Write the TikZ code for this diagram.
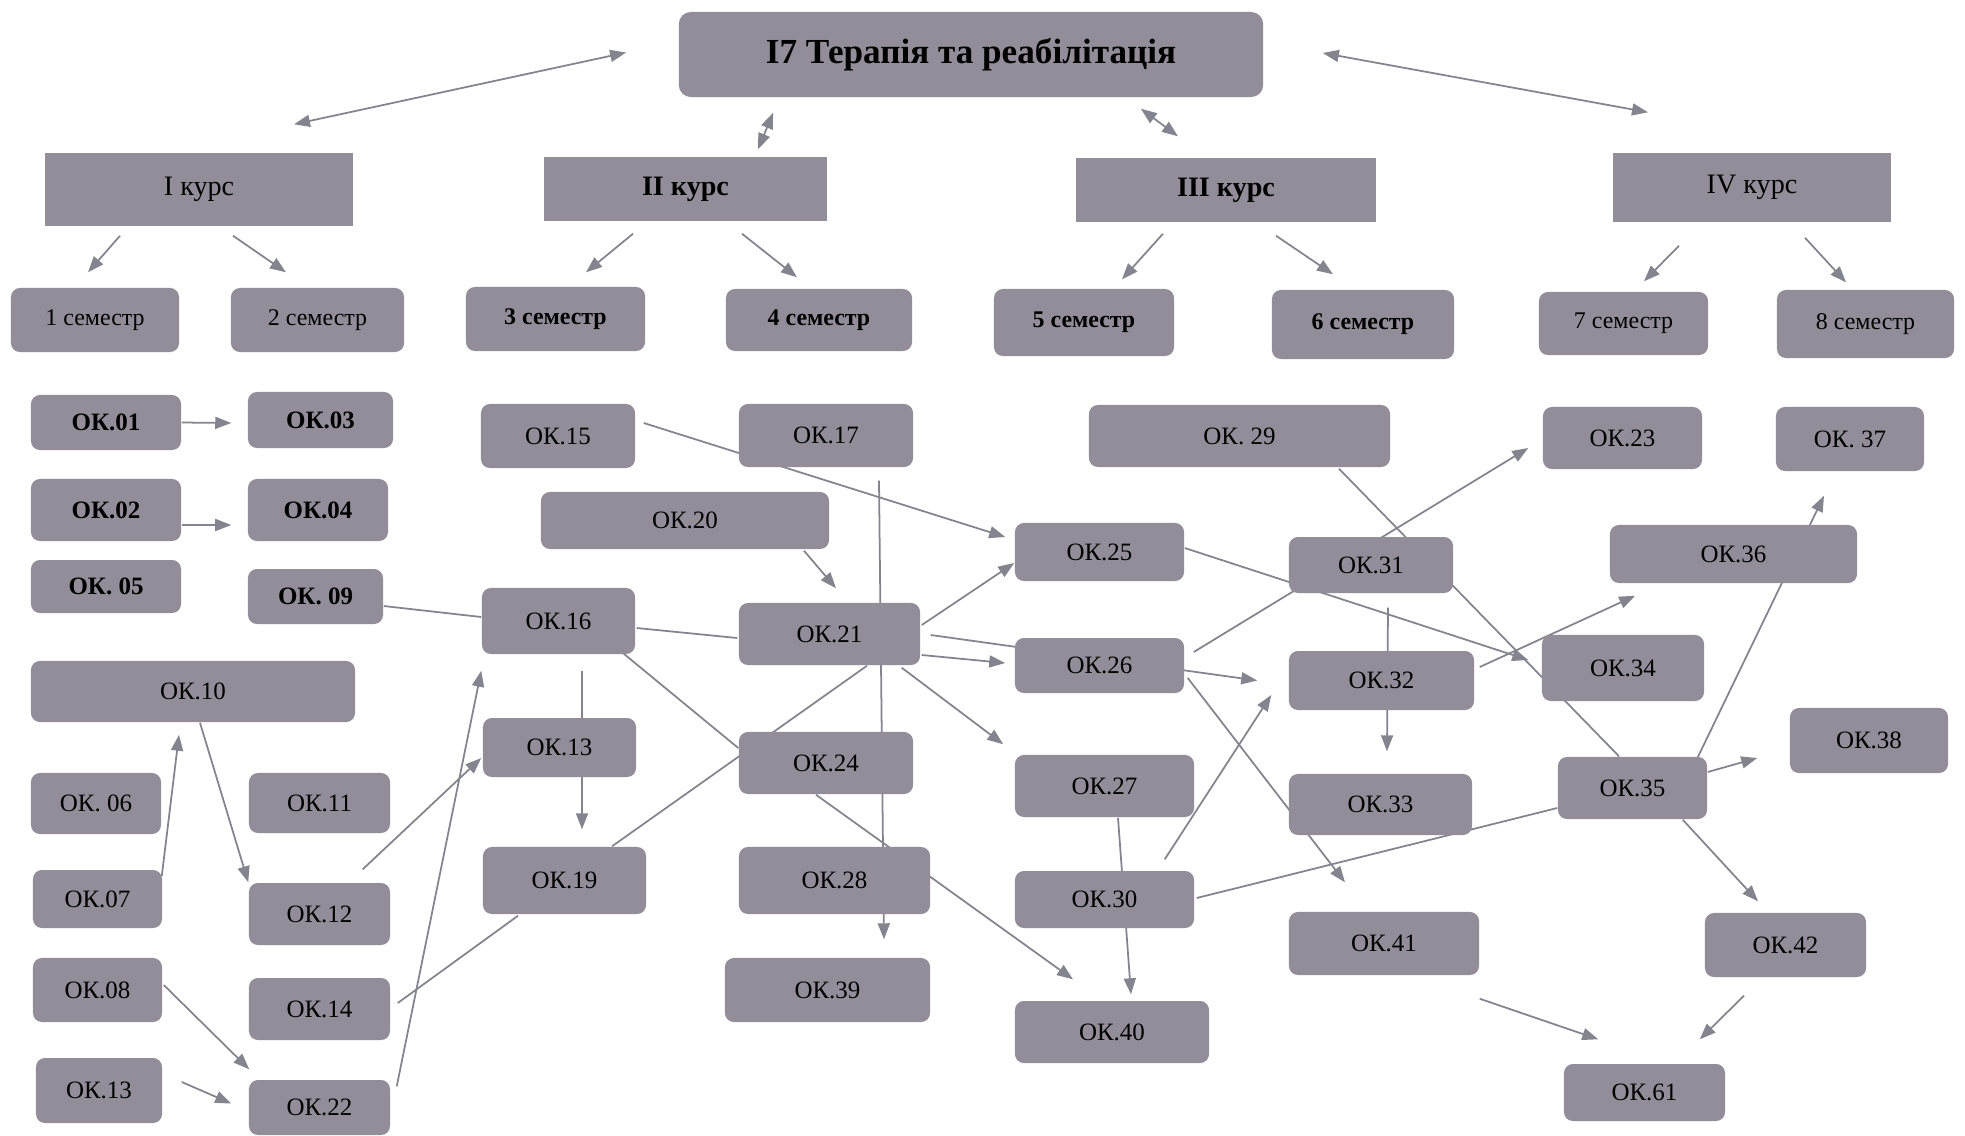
\documentclass[tikz,border=0pt]{standalone}
\usepackage{fontspec}
\setmainfont{Liberation Serif}
\usetikzlibrary{arrows.meta, backgrounds}

\definecolor{boxgrey}{RGB}{146,141,153}
\definecolor{linegrey}{RGB}{132,132,142}

\tikzset{
    box/.style = {shape = rectangle, fill = boxgrey, inner sep = 0pt, text = black},
    dims/.style 2 args = {minimum width = #1cm, minimum height = #2cm},
    ok/.style = {box, rounded corners = 0.09cm, font = \fontsize{7.1}{8}\selectfont},
    okbold/.style = {ok, font = \fontsize{7.1}{8}\selectfont\bfseries},
    sem/.style = {box, rounded corners = 0.09cm, font = \fontsize{6.8}{8}\selectfont},
    sembold/.style = {sem, font = \fontsize{6.8}{8}\selectfont\bfseries},
    kurs/.style = {box, font = \fontsize{8}{9}\selectfont},
    link/.style = {draw = linegrey, line width = 0.5pt},
}

\begin{document}
\begin{tikzpicture}[x = 0.01cm, y = -0.01cm, > = {Triangle[length = 0.16cm, width = 0.12cm]}]
                \useasboundingbox (0, 0) rectangle (1965, 1135);

                % title and courses
                \node [box, rounded corners = 0.12cm, dims = {5.84}{0.85}, font = \fontsize{10}{12}\selectfont\bfseries] (title) at (971, 54.5) {I7 Терапія та реабілітація};
                \node [kurs, dims = {3.08}{0.73}] (kurs1) at (199, 189.5) {I курс};
                \node [kurs, dims = {2.83}{0.64}, font = \fontsize{8}{9}\selectfont\bfseries] (kurs2) at (685.5, 189) {II курс};
                \node [kurs, dims = {3.00}{0.64}, font = \fontsize{8}{9}\selectfont\bfseries] (kurs3) at (1226, 190) {III курс};
                \node [kurs, dims = {2.78}{0.69}] (kurs4) at (1752, 187.5) {IV курс};

                % semesters
                \node [sem, dims = {1.68}{0.64}] (sem1) at (95, 320) {1 семестр};
                \node [sem, dims = {1.73}{0.64}] (sem2) at (317.5, 320) {2 семестр};
                \node [sembold, dims = {1.79}{0.64}] (sem3) at (555.5, 319) {3 семестр};
                \node [sembold, dims = {1.86}{0.62}] (sem4) at (819, 320) {4 семестр};
                \node [sembold, dims = {1.80}{0.67}] (sem5) at (1084, 322.5) {5 семестр};
                \node [sembold, dims = {1.82}{0.69}] (sem6) at (1363, 324.5) {6 семестр};
                \node [sem, dims = {1.69}{0.63}] (sem7) at (1623.5, 323.5) {7 семестр};
                \node [sem, dims = {1.77}{0.68}] (sem8) at (1865.5, 324) {8 семестр};

                % first course
                \node [okbold, dims = {1.50}{0.55}] (ok01) at (106, 422.5) {ОК.01};
                \node [okbold, dims = {1.45}{0.56}] (ok03) at (320.5, 420) {ОК.03};
                \node [okbold, dims = {1.50}{0.62}] (ok02) at (106, 510) {ОК.02};
                \node [okbold, dims = {1.40}{0.62}] (ok04) at (318, 510) {ОК.04};
                \node [okbold, dims = {1.50}{0.53}] (ok05) at (106, 586.5) {ОК. 05};
                \node [okbold, dims = {1.35}{0.55}] (ok09) at (315.5, 596.5) {ОК. 09};
                \node [ok, dims = {3.24}{0.61}] (ok10) at (193, 691.5) {ОК.10};
                \node [ok, dims = {1.30}{0.61}] (ok06) at (96, 803.5) {ОК. 06};
                \node [ok, dims = {1.41}{0.60}] (ok11) at (319.5, 803) {ОК.11};
                \node [ok, dims = {1.29}{0.58}] (ok07) at (97.5, 899) {ОК.07};
                \node [ok, dims = {1.41}{0.62}] (ok12) at (319.5, 914) {ОК.12};
                \node [ok, dims = {1.29}{0.64}] (ok08) at (97.5, 990) {ОК.08};
                \node [ok, dims = {1.41}{0.62}] (ok14) at (319.5, 1009) {ОК.14};
                \node [ok, dims = {1.26}{0.65}] (ok13) at (99, 1090.5) {ОК.13};
                \node [ok, dims = {1.41}{0.55}] (ok22) at (319.5, 1107.5) {ОК.22};

                % second course
                \node [ok, dims = {1.54}{0.64}] (ok15) at (558, 436) {ОК.15};
                \node [ok, dims = {1.74}{0.63}] (ok17) at (826, 435.5) {ОК.17};
                \node [ok, dims = {2.88}{0.57}] (ok20) at (685, 520.5) {ОК.20};
                \node [ok, dims = {1.53}{0.66}] (ok16) at (558.5, 621) {ОК.16};
                \node [ok, dims = {1.81}{0.62}] (ok21) at (829.5, 634) {ОК.21};
                \node [ok, dims = {1.53}{0.59}] (ok13m) at (559.5, 747.5) {ОК.13};
                \node [ok, dims = {1.74}{0.62}] (ok24) at (826, 763) {ОК.24};
                \node [ok, dims = {1.63}{0.67}] (ok19) at (564.5, 880.5) {ОК.19};
                \node [ok, dims = {1.91}{0.67}] (ok28) at (834.5, 880.5) {ОК.28};
                \node [ok, dims = {2.05}{0.64}] (ok39) at (827.5, 990) {ОК.39};

                % third course
                \node [ok, dims = {3.01}{0.62}] (ok29) at (1239.5, 436) {ОК. 29};
                \node [ok, dims = {1.69}{0.58}] (ok25) at (1099.5, 552) {ОК.25};
                \node [ok, dims = {1.64}{0.56}] (ok31) at (1371, 565) {ОК.31};
                \node [ok, dims = {1.69}{0.55}] (ok26) at (1099.5, 665.5) {ОК.26};
                \node [ok, dims = {1.85}{0.59}] (ok32) at (1381.5, 680.5) {ОК.32};
                \node [ok, dims = {1.79}{0.62}] (ok27) at (1104.5, 786) {ОК.27};
                \node [ok, dims = {1.83}{0.61}] (ok33) at (1380.5, 804.5) {ОК.33};
                \node [ok, dims = {1.79}{0.57}] (ok30) at (1104.5, 899.5) {ОК.30};
                \node [ok, dims = {1.90}{0.63}] (ok41) at (1384, 943.5) {ОК.41};
                \node [ok, dims = {1.94}{0.62}] (ok40) at (1112, 1032) {ОК.40};

                % fourth course
                \node [ok, dims = {1.59}{0.62}] (ok23) at (1622.5, 438) {ОК.23};
                \node [ok, dims = {1.48}{0.64}] (ok37) at (1850, 439) {ОК. 37};
                \node [ok, dims = {2.47}{0.58}] (ok36) at (1733.5, 554) {ОК.36};
                \node [ok, dims = {1.62}{0.66}] (ok34) at (1623, 668) {ОК.34};
                \node [ok, dims = {1.58}{0.65}] (ok38) at (1869, 740.5) {ОК.38};
                \node [ok, dims = {1.49}{0.62}] (ok35) at (1632.5, 788) {ОК.35};
                \node [ok, dims = {1.61}{0.64}] (ok42) at (1785.5, 945) {ОК.42};
                \node [ok, dims = {1.61}{0.57}] (ok61) at (1644.5, 1092.5) {ОК.61};

                \begin{pgfonlayer}{background}
                % title to courses
                \draw [link, <->] ([shift = {(-52, -2)}]title.west) -- ([shift = {(95, -28)}]kurs1.north);
                \draw [link, <->] ([shift = {(95, 15)}]title.south west) -- ([shift = {(72.5, -7)}]kurs2.north);
                \draw [link, <->] ([shift = {(-123, 11)}]title.south east) -- ([shift = {(-48, -21)}]kurs3.north);
                \draw [link, <->] ([shift = {(59, -1.5)}]title.east) -- ([shift = {(-104, -40)}]kurs4.north);

                % courses to semesters
                \draw [link, ->] ([shift = {(-79, 9)}]kurs1.south) -- ([shift = {(-7, -15)}]sem1.north);
                \draw [link, ->] ([shift = {(34, 9)}]kurs1.south) -- ([shift = {(-31.5, -15)}]sem2.north);
                \draw [link, ->] ([shift = {(-52.5, 12)}]kurs2.south) -- ([shift = {(30.5, -14)}]sem3.north);
                \draw [link, ->] ([shift = {(56.5, 12)}]kurs2.south) -- ([shift = {(-22, -11)}]sem4.north);
                \draw [link, ->] ([shift = {(-63, 11)}]kurs3.south) -- ([shift = {(38, -9)}]sem5.north);
                \draw [link, ->] ([shift = {(50, 13)}]kurs3.south) -- ([shift = {(-30, -15)}]sem6.north);
                \draw [link, ->] ([shift = {(-73, 23)}]kurs4.south) -- ([shift = {(20.5, -10)}]sem7.north);
                \draw [link, ->] ([shift = {(53, 15)}]kurs4.south) -- ([shift = {(-19.5, -7)}]sem8.north);

                % first course links
                \draw [link, ->] (ok01.east) -- ([shift = {(-16, 3)}]ok03.west);
                \draw [link, ->] ([shift = {(0, 15)}]ok02.east) -- ([shift = {(-16, 15)}]ok04.west);
                \draw [link] ([shift = {(0, 9.5)}]ok09.east) -- ([shift = {(0, -4)}]ok16.west);
                \draw [link, ->] ([shift = {(-1, 7)}]ok07.north east) -- ([shift = {(-14, 12)}]ok10.south);
                \draw [link, ->] ([shift = {(7, 0)}]ok10.south) -- (ok12.north west);
                \draw [link, ->] ([shift = {(1, -5)}]ok08.east) -- ([shift = {(1, -10)}]ok22.north west);
                \draw [link, ->] ([shift = {(19, -8.5)}]ok13.east) -- ([shift = {(-17, -4)}]ok22.west);
                \draw [link, ->] ([shift = {(-28, -13)}]ok12.north east) -- ([shift = {(-1, 10.5)}]ok13m.west);
                \draw [link, ->] ([shift = {(6, 7)}]ok22.north east) -- ([shift = {(0, 16)}]ok16.south west);
                \draw [link] ([shift = {(7, -6)}]ok14.east) -- ([shift = {(-46.5, 1)}]ok19.south);

                % second course links
                \draw [link, ->] ([shift = {(23.5, 16)}]ok16.south) -- ([shift = {(17.5, -17)}]ok19.north);
                \draw [link, ->] ([shift = {(8, -13)}]ok15.east) -- ([shift = {(-9, -15)}]ok25.west);
                \draw [link, ->] ([shift = {(119, 1)}]ok20.south) -- ([shift = {(6.5, -14)}]ok21.north);
                \draw [link, ->] ([shift = {(53, 13)}]ok17.south) -- ([shift = {(56.5, -18)}]ok39.north);
                \draw [link] ([shift = {(1, 7)}]ok16.east) -- ([shift = {(-1, 4)}]ok21.west);
                \draw [link] ([shift = {(-12, -1)}]ok16.south east) -- ([shift = {(0, -15)}]ok24.west);
                \draw [link] ([shift = {(47.5, 0)}]ok19.north) -- ([shift = {(37.5, 0)}]ok21.south);
                \draw [link, ->] ([shift = {(1, -9)}]ok21.east) -- ([shift = {(0, 11)}]ok25.west);
                \draw [link, ->] ([shift = {(10, 1)}]ok21.east) -- ([shift = {(-31, 0)}]ok32.west);
                \draw [link, ->] ([shift = {(1, 21)}]ok21.east) -- ([shift = {(-9, -2.5)}]ok26.west);
                \draw [link, ->] ([shift = {(-19, 2)}]ok21.south east) -- ([shift = {(-11, -10)}]ok27.north west);
                \draw [link, ->] ([shift = {(-10, 0)}]ok24.south) -- ([shift = {(-39, -21)}]ok40.north);

                % third course links
                \draw [link, ->] ([shift = {(13.5, 0)}]ok27.south) -- ([shift = {(19, -6)}]ok40.north);
                \draw [link, ->] ([shift = {(-30, -11)}]ok30.north east) -- ([shift = {(-17, 14.5)}]ok32.west);
                \draw [link] ([shift = {(2, -1.5)}]ok30.east) -- ([shift = {(0, 20)}]ok35.west);
                \draw [link, ->] ([shift = {(3, 12.5)}]ok26.east) -- ([shift = {(-39, -29)}]ok41.north);
                \draw [link, ->] ([shift = {(0, -4)}]ok25.east) -- ([shift = {(-13, -8)}]ok34.west);
                \draw [link, ->] ([shift = {(9, -13.5)}]ok26.east) -- ([shift = {(-14, 10)}]ok23.west);
                \draw [link] ([shift = {(99.5, 1)}]ok29.south) -- ([shift = {(-13.5, 0)}]ok35.north);
                \draw [link, ->] ([shift = {(17, 14)}]ok31.south) -- ([shift = {(6.5, -22)}]ok33.north);
                \draw [link, ->] ([shift = {(5, -13.5)}]ok32.east) -- ([shift = {(26, 12)}]ok36.south west);

                % fourth course links
                \draw [link, ->] ([shift = {(-10, 1)}]ok35.north east) -- ([shift = {(-26, 24)}]ok37.south);
                \draw [link, ->] ([shift = {(0, -16)}]ok35.east) -- ([shift = {(-32, 17.5)}]ok38.west);
                \draw [link, ->] ([shift = {(-25, 0)}]ok35.south east) -- ([shift = {(-27.5, -11)}]ok42.north);
                \draw [link, ->] ([shift = {(0, 23)}]ok41.south east) -- ([shift = {(35, -24)}]ok61.north west);
                \draw [link, ->] ([shift = {(-41.5, 18)}]ok42.south) -- ([shift = {(-26, -24)}]ok61.north east);
                \end{pgfonlayer}
            \end{tikzpicture}
\end{document}
